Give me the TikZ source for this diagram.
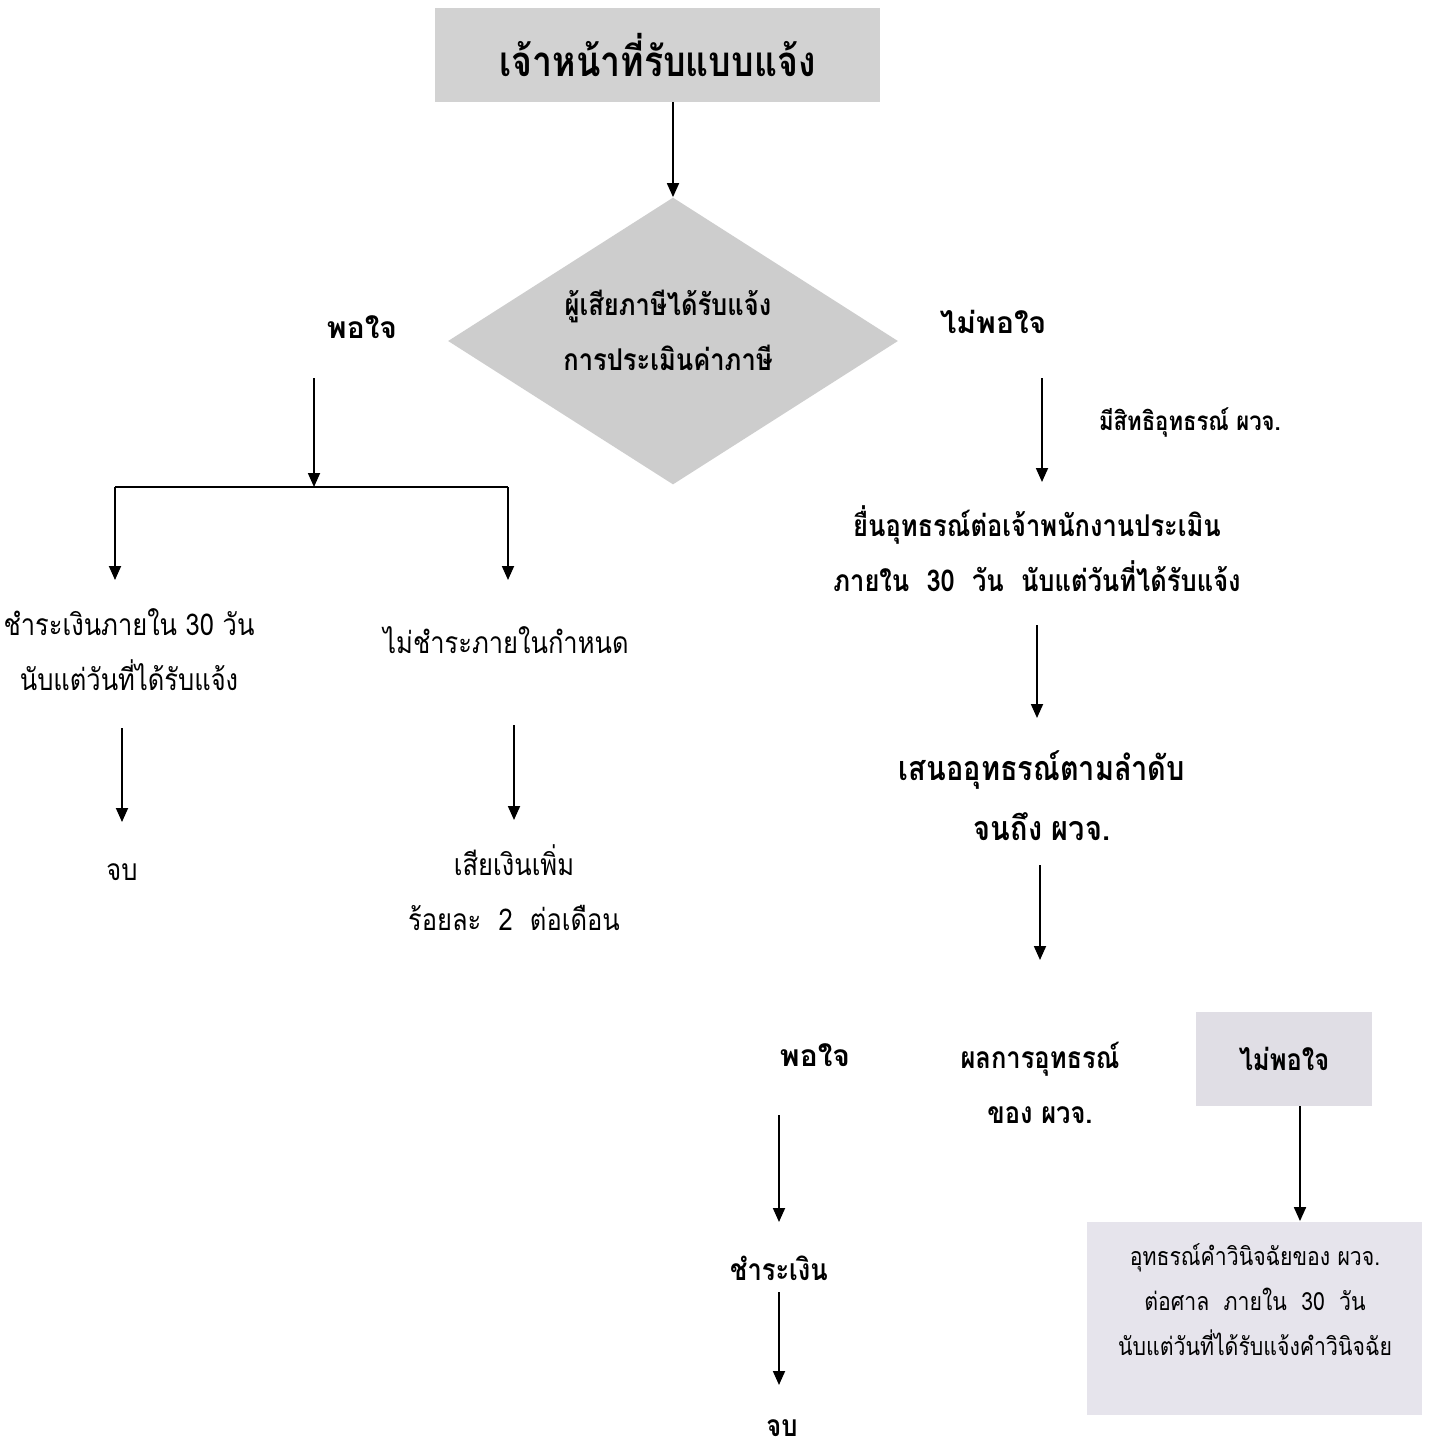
\documentclass[tikz,border=0pt]{standalone}
\usepackage{fontspec}
\setmainfont{Liberation Serif}
\newfontfamily\thai[Script=Thai]{Loma}
\newfontfamily\thaic[Script=Thai,FakeStretch=0.85]{Loma}
\usetikzlibrary{arrows.meta,shapes.geometric}
\definecolor{topgray}{HTML}{D2D2D2}
\definecolor{diagray}{HTML}{CDCDCD}
\definecolor{lavA}{HTML}{E0DEE5}
\definecolor{lavB}{HTML}{E6E4EC}
\tikzset{
  arr/.style={draw=black, line width=0.9pt, -{Triangle[length=7pt,width=6pt]}},
  ln/.style={draw=black, line width=0.9pt},
  txt/.style={align=center, inner sep=0pt, font=\thaic\fontsize{15}{27.5}\selectfont},
  btxt/.style={align=center, inner sep=0pt, font=\thaic\bfseries\fontsize{15}{27.5}\selectfont},
  wtxt/.style={align=center, inner sep=0pt, font=\thai\bfseries\fontsize{15}{27.5}\selectfont},
}
\begin{document}
\begin{tikzpicture}[x=0.5pt,y=-0.5pt]
\useasboundingbox (0,0) rectangle (1431,1447);
\fill[white] (0,0) rectangle (1431,1447);
% top box
\node[fill=topgray, minimum width=222.5pt, minimum height=47pt, inner sep=0pt,
  font=\thaic\bfseries\fontsize{21}{26}\selectfont] (top) at (657.5,55) {เจ้าหน้าที่รับแบบแจ้ง};
% diamond
\node[diamond, fill=diagray, minimum width=225pt, minimum height=143.5pt, inner sep=0pt, aspect=1.58] (dia) at (673,341) {};
\node[btxt] (diatext) at (668,330) {ผู้เสียภาษีได้รับแจ้ง\\การประเมินค่าภาษี};
\draw[arr] (top.south -| dia.north) -- (dia.north);
% labels around diamond
\node[wtxt] (pojai1) at (362,327) {พอใจ};
\node[wtxt] (maipojai1) at (993,322) {ไม่พอใจ};
% left branch
\coordinate (bstart) at (314,378);
\coordinate (split) at (314,487);
\coordinate (sl) at (115,487);
\coordinate (sr) at (508,487);
\node[txt] (pay1) at (129,650) {ชำระเงินภายใน 30 วัน\\นับแต่วันที่ได้รับแจ้ง};
\node[txt] (nopay) at (506,640) {ไม่ชำระภายในกำหนด};
\draw[arr] (bstart) -- (split);
\draw[ln] (sl) -- (sr);
\draw[arr, shorten >=35pt] (sl) -- (sl |- pay1.center);
\draw[arr, shorten >=30pt] (sr) -- (sr |- nopay.center);
\node[txt] (end1) at (122,872) {จบ};
\node[txt] (surch) at (514,888) {เสียเงินเพิ่ม\\ร้อยละ~~2~~ต่อเดือน};
\draw[arr, shorten <=39pt, shorten >=25pt] (end1.center |- pay1.center) -- (end1.center);
\draw[arr, shorten <=42.5pt, shorten >=34pt] (surch.center |- nopay.center) -- (surch.center);
% right branch
\coordinate (fstart) at (1042,378);
\node[font=\thaic\bfseries\fontsize{13}{15}\selectfont, inner sep=0pt] (right) at (1190,422) {มีสิทธิอุทธรณ์ ผวจ.};
\node[btxt] (appeal) at (1037,549) {ยื่นอุทธรณ์ต่อเจ้าพนักงานประเมิน\\ภายใน~~30~~วัน~~นับแต่วันที่ได้รับแจ้ง};
\draw[arr, shorten >=33.5pt] (fstart) -- (fstart |- appeal.center);
\node[btxt, font=\thaic\bfseries\fontsize{17}{30}\selectfont] (propose) at (1042,796) {เสนออุทธรณ์ตามลำดับ\\จนถึง ผวจ.};
\draw[arr, shorten <=38pt, shorten >=39pt] (appeal.center) -- (appeal.center |- propose.center);
\node[btxt] (result) at (1040,1083) {ผลการอุทธรณ์\\ของ ผวจ.};
\draw[arr, shorten <=34.5pt, shorten >=61.5pt] (result.center |- propose.center) -- (result.center);
\node[wtxt] (pojai2) at (815,1055) {พอใจ};
\node[fill=lavA, minimum width=88pt, minimum height=47pt, inner sep=0pt,
  font=\thaic\bfseries\fontsize{15}{18}\selectfont] (maipojai2) at (1284,1059) {ไม่พอใจ};
\node[fill=lavB, minimum width=167.5pt, minimum height=96.5pt, inner sep=0pt] (court) at (1254.5,1318) {};
\node[align=center, inner sep=0pt, font=\thaic\fontsize{12.5}{22.5}\selectfont] (courttext) at (1255,1300) {อุทธรณ์คำวินิจฉัยของ ผวจ.\\ต่อศาล~~ภายใน~~30~~วัน\\นับแต่วันที่ได้รับแจ้งคำวินิจฉัย};
\draw[arr] ([xshift=8pt]maipojai2.south) -- ([xshift=8pt]maipojai2.south |- court.north);
\node[btxt] (pay2) at (779,1268) {ชำระเงิน};
\node[btxt] (end2) at (782,1428) {จบ};
\draw[arr, shorten <=30pt, shorten >=23pt] (pay2.center |- pojai2.center) -- (pay2.center);
\draw[arr, shorten <=12pt, shorten >=21.5pt] (pay2.center) -- (pay2.center |- end2.center);
\end{tikzpicture}
\end{document}
